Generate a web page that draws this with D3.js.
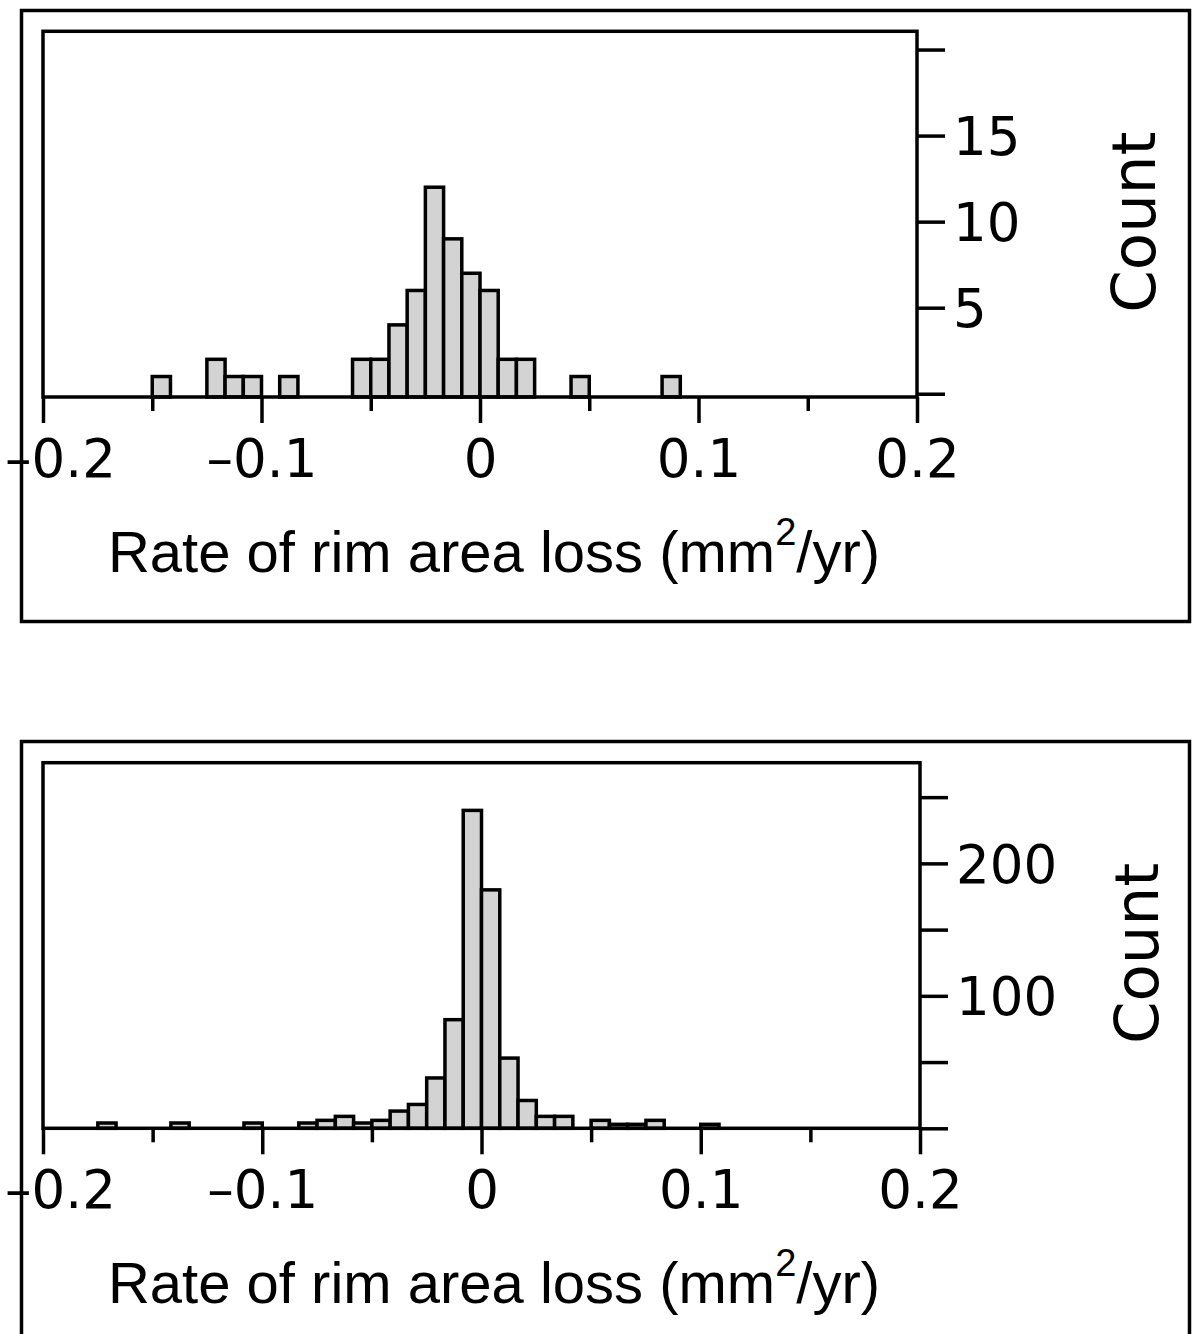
<!DOCTYPE html>
<html>
<head>
<meta charset="utf-8">
<script src="https://cdn.jsdelivr.net/npm/d3@7"></script>
<style>
  body { margin: 0; background: #fff; }
  .tick text { font-family: "DejaVu Sans", sans-serif; }
</style>
</head>
<body>
<div id="chart"></div>
<script>
// histogram bins: bin i covers [i*binWidth, (i+1)*binWidth)
var binWidth = 1 / 120;

var topBins   = [-18, -15, -14, -13, -11, -7, -6, -5, -4, -3, -2, -1, 0, 1, 2, 5, 10];
var topCounts = [1, 2, 1, 1, 1, 2, 2, 4, 6, 12, 9, 7, 6, 2, 2, 1, 1];

var bottomBins   = [-21, -17, -13, -10, -9, -8, -7, -6, -5, -4, -3, -2, -1, 0, 1, 2, 3, 4, 6, 7, 8, 9, 12];
var bottomCounts = [4, 4, 4, 4, 6, 9, 4, 6, 13, 18, 38, 82, 240, 180, 53, 21, 9, 9, 6, 3, 3, 6, 3];

var xMajor  = [-0.2, -0.1, 0, 0.1, 0.2];
var xMinor  = [-0.15, -0.05, 0.05, 0.15];
var xLabels = ["\u20130.2", "\u20130.1", "0", "0.1", "0.2"];

var topYTicks     = [0, 5, 10, 15, 20];
var topYLabels    = [5, 10, 15];
var bottomYTicks  = [0, 50, 100, 150, 200, 250];
var bottomYLabels = [100, 200];

var width = 1193, height = 1334;

var svg = d3.select("#chart")
  .append("svg")
  .attr("width", width)
  .attr("height", height);

function drawPanel(p) {
  var g = svg.append("g");

  // outer frame
  g.append("rect")
    .attr("x", p.frame[0]).attr("y", p.frame[1])
    .attr("width", p.frame[2]).attr("height", p.frame[3])
    .attr("fill", "none").attr("stroke", "#000").attr("stroke-width", 3.5);

  var x = d3.scaleLinear().domain([-0.2, 0.2]).range([p.left, p.right]);
  var y = d3.scaleLinear().domain(p.yDomain).range([p.bottom, p.top]);

  var data = p.bins.map(function (b, i) { return { i: b, n: p.counts[i] }; });

  // bars
  g.selectAll("rect.bar")
    .data(data)
    .enter()
    .append("rect")
    .attr("class", "bar")
    .attr("x", function (d) { return x(d.i * binWidth); })
    .attr("width", function (d) { return x((d.i + 1) * binWidth) - x(d.i * binWidth); })
    .attr("y", function (d) { return y(d.n); })
    .attr("height", function (d) { return y(p.yDomain[0]) - y(d.n); })
    .attr("fill", "#d3d3d3")
    .attr("stroke", "#000")
    .attr("stroke-width", 3.5);

  // plot box
  g.append("rect")
    .attr("x", p.left).attr("y", p.top)
    .attr("width", p.right - p.left).attr("height", p.bottom - p.top)
    .attr("fill", "none").attr("stroke", "#000").attr("stroke-width", 3.5);

  // x axis: minor then major ticks
  var xMinorAxis = d3.axisBottom(x).tickValues(xMinor).tickSize(14).tickFormat("");
  g.append("g")
    .attr("transform", "translate(0," + p.bottom + ")")
    .call(xMinorAxis)
    .call(function (a) { a.select(".domain").remove(); })
    .selectAll("line").attr("stroke-width", 3.5);

  var xAxis = d3.axisBottom(x).tickValues(xMajor).tickSize(26)
    .tickFormat(function (d, i) { return xLabels[i]; });
  var xa = g.append("g")
    .attr("transform", "translate(0," + p.bottom + ")")
    .call(xAxis);
  xa.select(".domain").remove();
  xa.selectAll("line").attr("stroke-width", 3.5);
  xa.selectAll("text")
    .attr("font-size", 53)
    .attr("fill", "#000")
    .attr("y", 80)
    .attr("dy", 0)
    .attr("dx", function (d, i) { return i === 0 ? 17 : 0; });

  // right y axis
  var yAxis = d3.axisRight(y).tickValues(p.yTicks).tickSize(28)
    .tickFormat(function (d) { return p.yLabels.indexOf(d) >= 0 ? d : ""; });
  var ya = g.append("g")
    .attr("transform", "translate(" + p.right + ",0)")
    .call(yAxis);
  ya.select(".domain").remove();
  ya.selectAll("line").attr("stroke-width", 3.5);
  ya.selectAll("text")
    .attr("font-size", 53)
    .attr("fill", "#000")
    .attr("x", 36)
    .attr("dy", "0.36em");

  // x title
  var t = g.append("text")
    .attr("x", 494)
    .attr("y", p.bottom + 175)
    .attr("text-anchor", "middle")
    .attr("font-family", "Liberation Sans, Arial, sans-serif")
    .attr("font-size", 58)
    .attr("fill", "#000");
  t.append("tspan").text("Rate of rim area loss (mm");
  t.append("tspan").attr("font-size", 38).attr("dy", -27).text("2");
  t.append("tspan").attr("dy", 27).text("/yr)");

  // y title
  g.append("text")
    .attr("transform", "translate(" + (p.right + 238) + "," + ((p.top + p.bottom) / 2 + 8) + ") rotate(-90)")
    .attr("text-anchor", "middle")
    .attr("font-family", "DejaVu Sans, sans-serif")
    .attr("font-size", 61)
    .attr("fill", "#000")
    .text("Count");
}

drawPanel({
  frame: [21.5, 10.5, 1168, 611],
  left: 43, right: 917, top: 31.3, bottom: 397,
  yDomain: [-0.19, 21.06],
  bins: topBins, counts: topCounts,
  yTicks: topYTicks, yLabels: topYLabels
});

drawPanel({
  frame: [21.5, 741.5, 1168, 700],
  left: 43, right: 920, top: 762.7, bottom: 1128.3,
  yDomain: [0, 276],
  bins: bottomBins, counts: bottomCounts,
  yTicks: bottomYTicks, yLabels: bottomYLabels
});
</script>
</body>
</html>
